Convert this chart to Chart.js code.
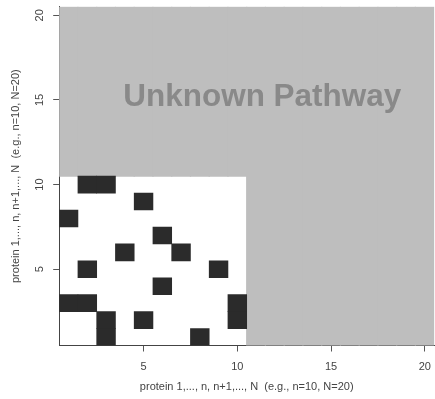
<!DOCTYPE html>
<html>
<head>
<meta charset="utf-8">
<script src="https://cdn.jsdelivr.net/npm/chart.js@4.4.0/dist/chart.umd.min.js"></script>
<style>
  html, body { margin: 0; padding: 0; background: #fff; overflow: hidden; }
  canvas { display: block; }
</style>
</head>
<body>
<canvas id="myChart" width="440" height="399"></canvas>
<script>
// interacting protein pairs (column, row) inside the known pathway
const cellCols = [2, 3, 5, 1, 6, 4, 7, 2, 9, 6, 1, 2, 10, 3, 5, 10, 3, 8];
const cellRows = [10, 10, 9, 8, 7, 6, 6, 5, 5, 4, 3, 3, 3, 2, 2, 2, 1, 1];

// proteins of the known pathway (n = 10) and all proteins (N = 20)
const knownProteins = [1, 2, 3, 4, 5, 6, 7, 8, 9, 10];
const allProteins = [1, 2, 3, 4, 5, 6, 7, 8, 9, 10, 11, 12, 13, 14, 15, 16, 17, 18, 19, 20];

const xTicks = [5, 10, 15, 20];
const yTicks = [5, 10, 15, 20];

const axisTitle = "protein 1,..., n, n+1,..., N  (e.g., n=10, N=20)";
const unknownLabel = "Unknown Pathway";

const n = knownProteins.length;
const N = allProteins.length;

const blackCells = cellCols.map((c, i) => ({ x: c, y: [cellRows[i] - 0.5, cellRows[i] + 0.5] }));
// unknown part of the matrix: everything outside the n x n known block
const grayCells = allProteins.map(c => ({ x: c, y: [c <= n ? n + 0.5 : 0.5, N + 0.5] }));

const textColor = "#444";

// rotated y tick labels (R style) and the region label
const extras = {
    id: "extras",
    afterDatasetsDraw(chart) {
        const ctx = chart.ctx;
        const xs = chart.scales.x, ys = chart.scales.y;
        ctx.save();
        let size = 30;
        ctx.font = "bold " + size + "px 'Liberation Sans', Arial, sans-serif";
        size = size * 278 / ctx.measureText(unknownLabel).width;
        ctx.font = "bold " + size + "px 'Liberation Sans', Arial, sans-serif";
        ctx.fillStyle = "#898989";
        ctx.textAlign = "center";
        ctx.textBaseline = "alphabetic";
        ctx.fillText(unknownLabel, xs.getPixelForValue(11.33), ys.getPixelForValue(14.65));
        ctx.restore();
    },
    afterDraw(chart) {
        const ctx = chart.ctx;
        const ys = chart.scales.y;
        ctx.save();
        ctx.font = "11px 'Liberation Sans', Arial, sans-serif";
        ctx.fillStyle = textColor;
        ctx.textAlign = "center";
        ctx.textBaseline = "alphabetic";
        yTicks.forEach(v => {
            ctx.save();
            ctx.translate(43.4, ys.getPixelForValue(v));
            ctx.rotate(-Math.PI / 2);
            ctx.fillText(String(v), 0, 0);
            ctx.restore();
        });
        ctx.restore();
    }
};

const myChartRef = document.getElementById("myChart").getContext("2d");

new Chart(myChartRef, {
    type: "bar",
    data: {
        datasets: [
            { data: blackCells, backgroundColor: "#2b2b2b" },
            { data: grayCells, backgroundColor: "#bebebe", inflateAmount: 0.6 }
        ]
    },
    options: {
        responsive: false,
        animation: false,
        grouped: false,
        barPercentage: 1,
        categoryPercentage: 1,
        borderWidth: 0,
        layout: { padding: { top: 6.8, right: 2.4, left: 0, bottom: 0 } },
        plugins: {
            legend: { display: false },
            tooltip: { enabled: false }
        },
        scales: {
            x: {
                type: "linear",
                min: 0.5,
                max: 20.5,
                offset: false,
                z: 1,
                afterBuildTicks: s => { s.ticks = xTicks.map(v => ({ value: v })); },
                afterFit: s => { s.height = 53.5; },
                grid: { offset: false, drawOnChartArea: false, drawTicks: true, tickLength: 6, color: "#555" },
                border: { display: true, color: "#444", width: 1 },
                ticks: {
                    autoSkip: false, maxRotation: 0, padding: 9,
                    color: textColor,
                    font: { family: "'Liberation Sans', Arial, sans-serif", size: 11 }
                },
                title: {
                    display: true, text: axisTitle, color: textColor,
                    padding: { top: 0, bottom: 5.7 },
                    font: { family: "'Liberation Sans', Arial, sans-serif", size: 11 }
                }
            },
            y: {
                type: "linear",
                min: 0.5,
                max: 20.5,
                afterBuildTicks: s => { s.ticks = yTicks.map(v => ({ value: v })); },
                afterFit: s => { s.width = 59.2; },
                grid: { drawOnChartArea: false, drawTicks: true, tickLength: 6, color: "#555" },
                border: { display: true, color: "#444", width: 1 },
                ticks: { display: false },
                title: {
                    display: true, text: axisTitle, color: textColor,
                    padding: { top: 8.9, bottom: 0 },
                    font: { family: "'Liberation Sans', Arial, sans-serif", size: 11 }
                }
            }
        }
    },
    plugins: [extras]
});
</script>
</body>
</html>
